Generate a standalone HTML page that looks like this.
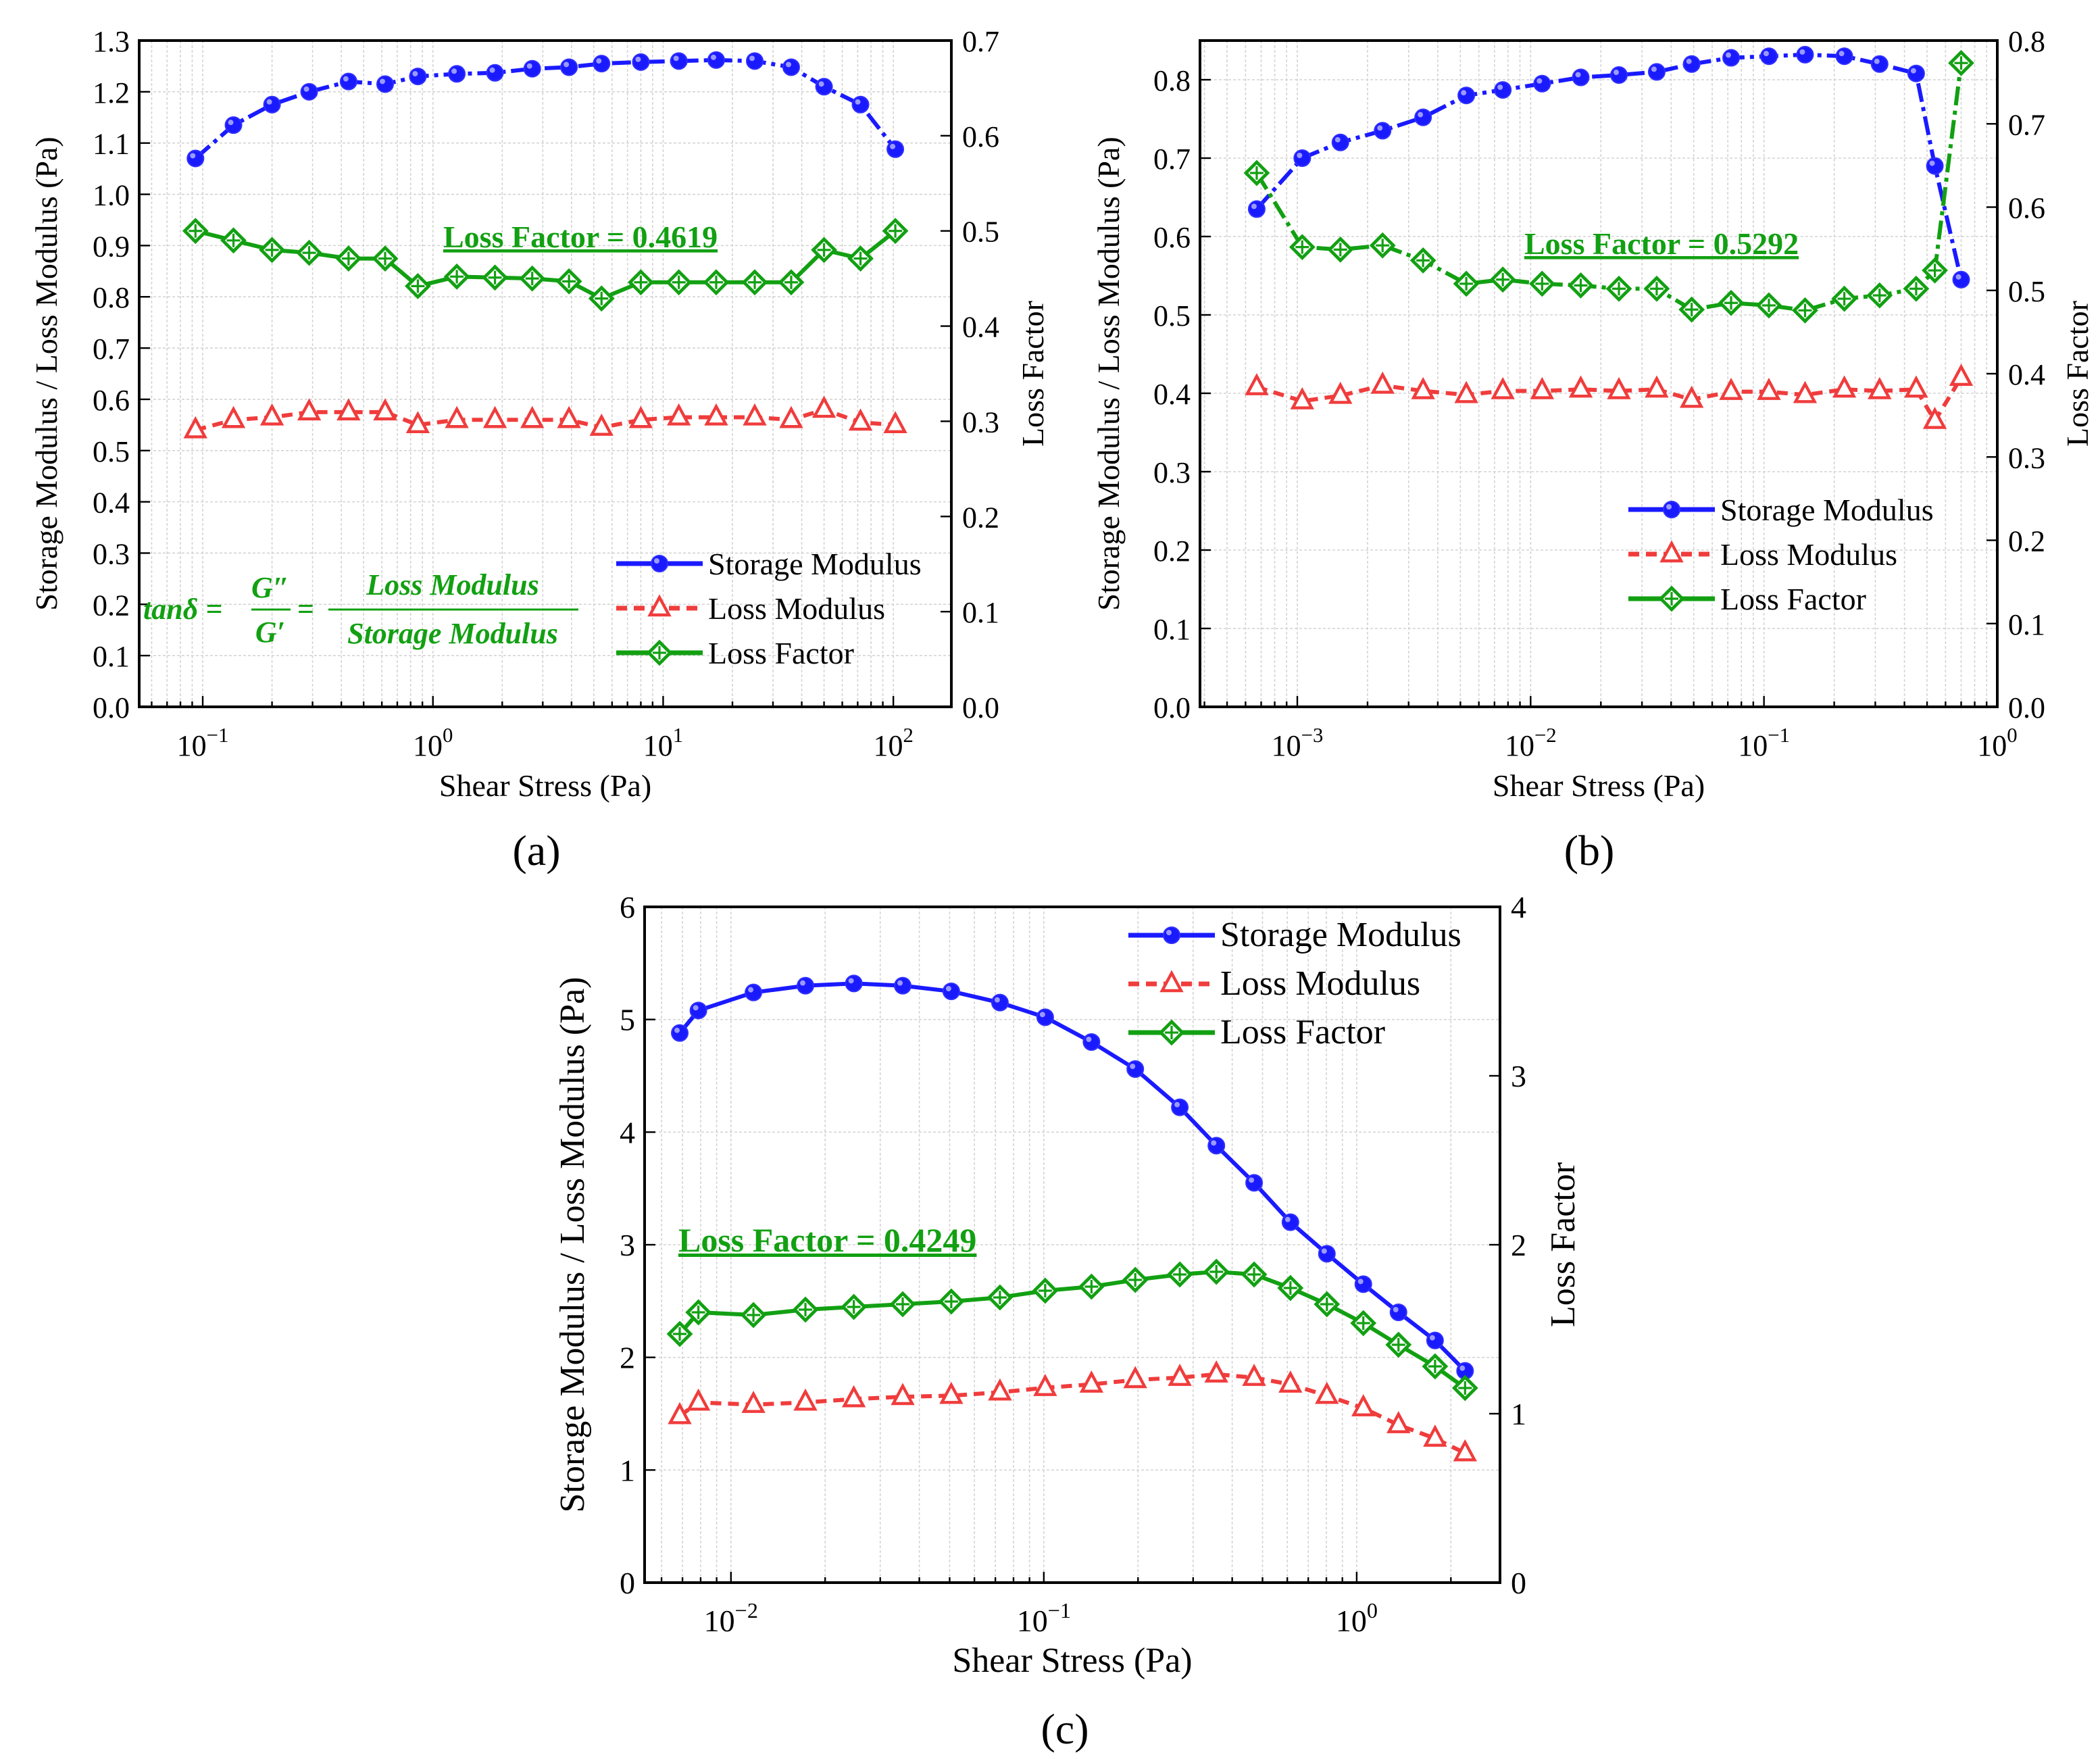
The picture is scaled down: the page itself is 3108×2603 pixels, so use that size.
<!DOCTYPE html>
<html><head><meta charset="utf-8"><style>
html,body{margin:0;padding:0;background:#fff;}
svg, svg text{font-family:"Liberation Serif","DejaVu Serif",serif;}
svg{display:block;}
</style></head><body>
<svg id="fig" width="3108" height="2603" viewBox="0 0 1554 1301.5" xmlns="http://www.w3.org/2000/svg" font-family="Liberation Serif, serif"></svg>
<script>
// ---- Panel (a) data ----
const aX = [0.093,0.136,0.2,0.29,0.43,0.62,0.86,1.27,1.86,2.7,3.9,5.4,8,11.7,17,25,36,50,72,102];
const aStorage = [1.07,1.135,1.175,1.2,1.22,1.215,1.23,1.235,1.237,1.245,1.248,1.255,1.258,1.26,1.262,1.26,1.248,1.21,1.175,1.088];
const aLoss = [0.54,0.56,0.565,0.575,0.575,0.575,0.55,0.56,0.56,0.56,0.56,0.545,0.56,0.565,0.565,0.565,0.56,0.58,0.555,0.55];
const aFactor = [0.50,0.49,0.48,0.477,0.471,0.471,0.442,0.452,0.451,0.45,0.447,0.429,0.446,0.446,0.446,0.446,0.446,0.48,0.471,0.50];
const aLeftTicks = [0,0.1,0.2,0.3,0.4,0.5,0.6,0.7,0.8,0.9,1.0,1.1,1.2,1.3];
const aRightTicks = [0,0.1,0.2,0.3,0.4,0.5,0.6,0.7];
const aXTicks = [-1,0,1,2];
// ---- Panel (b) data ----
const bX = [0.00067,0.00105,0.00153,0.00232,0.00346,0.0053,0.0076,0.0112,0.0164,0.0239,0.0347,0.049,0.0723,0.105,0.150,0.221,0.313,0.449,0.54,0.70];
const bStorage = [0.635,0.70,0.72,0.735,0.752,0.78,0.787,0.795,0.803,0.806,0.81,0.82,0.828,0.83,0.832,0.83,0.82,0.808,0.69,0.545];
const bLoss = [0.408,0.39,0.397,0.41,0.403,0.398,0.403,0.403,0.405,0.403,0.405,0.392,0.402,0.402,0.398,0.405,0.403,0.405,0.365,0.42];
const bFactor = [0.641,0.552,0.549,0.554,0.536,0.508,0.513,0.508,0.506,0.502,0.502,0.477,0.485,0.482,0.476,0.49,0.494,0.502,0.524,0.773];
const bLeftTicks = [0,0.1,0.2,0.3,0.4,0.5,0.6,0.7,0.8];
const bRightTicks = [0,0.1,0.2,0.3,0.4,0.5,0.6,0.7,0.8];
const bXTicks = [-3,-2,-1,0];
// ---- Panel (c) data ----
const cX = [0.00686,0.00787,0.0118,0.0173,0.0247,0.0354,0.0506,0.0724,0.101,0.142,0.196,0.272,0.356,0.47,0.614,0.803,1.05,1.36,1.78,2.22];
const cStorage = [4.88,5.08,5.24,5.3,5.32,5.3,5.25,5.15,5.02,4.8,4.56,4.22,3.88,3.55,3.2,2.92,2.65,2.4,2.15,1.88];
const cLoss = [1.48,1.6,1.58,1.6,1.63,1.65,1.66,1.69,1.73,1.76,1.8,1.82,1.85,1.82,1.76,1.66,1.55,1.4,1.28,1.15];
const cFactor = [1.472,1.6,1.584,1.616,1.632,1.648,1.664,1.688,1.728,1.752,1.792,1.824,1.84,1.824,1.744,1.648,1.536,1.408,1.28,1.152];
const cLeftTicks = [0,1,2,3,4,5,6];
const cRightTicks = [0,1,2,3,4];
const cXTicks = [-2,-1,0];

const NS = "http://www.w3.org/2000/svg";
const svg = document.getElementById('fig');
const FONT = '"Liberation Serif", "DejaVu Serif", serif';
function mk(tag, attrs, parent, text){
  const e = document.createElementNS(NS, tag);
  for (const k in attrs) e.setAttribute(k, attrs[k]);
  if (tag === 'text') e.setAttribute('font-family', FONT);
  if (text !== undefined) e.textContent = text;
  (parent||svg).appendChild(e);
  return e;
}
const BLUE='#1a1aff', RED='#f03c3c', GREEN='#12a012';

function panel(p){
  const g = mk('g',{});
  
  
  const X = v => p.x0 + (Math.log10(v) - p.lmin)/(p.lmax-p.lmin)*(p.x1-p.x0);
  const XL = l => p.x0 + (l - p.lmin)/(p.lmax-p.lmin)*(p.x1-p.x0);
  const YL = v => p.y1 - v/p.lTop*(p.y1-p.y0);
  const YR = v => p.y1 - v/p.rTop*(p.y1-p.y0);
  const grid = mk('g',{stroke:'#d4d4d4','stroke-width':0.8,'stroke-dasharray':'2,1.5'},g);
   
  for (let d=Math.floor(p.lmin); d<=Math.ceil(p.lmax); d++){
    for (let m=1;m<10;m++){
      const l = d+Math.log10(m);
      if (l<=p.lmin||l>=p.lmax) continue;
      mk('line',{x1:XL(l),x2:XL(l),y1:p.y0,y2:p.y1},grid);
      mk('line',{x1:XL(l),x2:XL(l),y1:p.y1,y2:p.y1-(m===1?8:4),stroke:'#000','stroke-width':1.2},g);
    }
  }
  p.lt.forEach(v=>{ mk('line',{x1:p.x0,x2:p.x1,y1:YL(v),y2:YL(v)},grid); });
  p.lt.forEach(v=>{ mk('line',{x1:p.x0,x2:p.x0+8,y1:YL(v),y2:YL(v),stroke:'#000','stroke-width':1.2},g);
    const t=mk('text',{x:p.x0-7,y:YL(v)+8,'text-anchor':'end','font-size':p.fs},g,p.lfmt(v));
      });
  p.rt.forEach(v=>{ mk('line',{x1:p.x1,x2:p.x1-8,y1:YR(v),y2:YR(v),stroke:'#000','stroke-width':1.2},g);
    const t=mk('text',{x:p.x1+8,y:YR(v)+8,'font-size':p.fs},g,p.rfmt(v));
      });
  p.xt.forEach(l=>{
    const t=mk('text',{x:XL(l),y:p.y1+36,'text-anchor':'middle','font-size':p.fs},g);
     
    const a=mk('tspan',{},t,'10'); a.setAttribute('font-family',FONT);
    const b=mk('tspan',{dy:-10,'font-size':p.fs*0.7},t,l<0?'\u2212'+(-l):String(l)); b.setAttribute('font-family',FONT);
  });
  mk('rect',{x:p.x0,y:p.y0,width:p.x1-p.x0,height:p.y1-p.y0,fill:'none',stroke:'#000','stroke-width':2},g);
  let t=mk('text',{x:(p.x0+p.x1)/2,y:p.y1+66,'text-anchor':'middle','font-size':p.ts},g,'Shear Stress (Pa)');
   
  const cy=(p.y0+p.y1)/2;
  t=mk('text',{x:p.lx,y:cy,'text-anchor':'middle','font-size':p.ts,transform:`rotate(-90 ${p.lx} ${cy})`},g,'Storage Modulus / Loss Modulus (Pa)');
   
  t=mk('text',{x:p.rx,y:cy,'text-anchor':'middle','font-size':p.ts,transform:`rotate(-90 ${p.rx} ${cy})`,'xml:space':'preserve'},g,'Loss  Factor');
   
  const series=[
    {name:'storage-modulus',vals:p.s,Y:YL,c:BLUE,dash:p.sd,m:'circle'},
    {name:'loss-modulus',vals:p.lo,Y:YL,c:RED,dash:'8,5',m:'tri'},
    {name:'loss-factor',vals:p.f,Y:YR,c:GREEN,dash:p.fd,m:'dia'}];
  series.forEach(s=>{
    const sg=mk('g',{},g);
     
    const pts=p.xs.map((x,i)=>X(x)+','+s.Y(s.vals[i])).join(' ');
    mk('polyline',{points:pts,fill:'none',stroke:s.c,'stroke-width':3,'stroke-dasharray':s.dash},sg);
    p.xs.forEach((x,i)=>marker(sg,s.m,X(x),s.Y(s.vals[i]),s.c,s.name));
  });
  const lg=mk('g',{},g);
   
  const names=['Storage Modulus','Loss Modulus','Loss Factor'];
  series.forEach((s,i)=>{
    const y=p.legY+i*p.legDy;
    const e=mk('g',{},lg);
     
    mk('line',{x1:p.legX,x2:p.legX+64,y1:y,y2:y,stroke:s.c,'stroke-width':3.5,'stroke-dasharray':i===1?'8,5':'none'},e);
    marker(e,s.m,p.legX+32,y,s.c,'legend');
    mk('text',{x:p.legX+68,y:y+8,'font-size':p.legFs},e,names[i]);
  });
  const a=mk('text',{x:p.annX,y:p.annY,'font-size':p.annFs,'font-weight':'bold',fill:GREEN,'text-decoration':'underline'},g,p.ann);
   
  const lab=mk('text',{x:p.labX,y:p.labY,'text-anchor':'middle','font-size':32},g,'('+p.id+')');
   
}
function marker(parent,m,x,y,c,name){
  let e;
  if(m==='circle'){ e=mk('circle',{cx:x,cy:y,r:6,fill:c,stroke:'#3030ff','stroke-width':1},parent); mk('circle',{cx:x-2,cy:y-2,r:2,fill:'#9a9aff'},parent); }
  else if(m==='tri'){ e=mk('polygon',{points:`${x},${y-8} ${x-7},${y+5} ${x+7},${y+5}`,fill:'#fff',stroke:c,'stroke-width':2.2},parent); }
  else { e=mk('polygon',{points:`${x},${y-8} ${x+8},${y} ${x},${y+8} ${x-8},${y}`,fill:'#fff',stroke:c,'stroke-width':2.4},parent);
    mk('path',{d:`M${x-5} ${y}H${x+5}M${x} ${y-5}V${y+5}`,stroke:c,'stroke-width':1.6},parent); }
  
  
}
const f1=v=>v.toFixed(1), f0=v=>String(v);
panel({id:'a',x0:103,x1:704,y0:30,y1:523,lmin:-1.276,lmax:2.252,lTop:1.3,rTop:0.7,
  lt:aLeftTicks,rt:aRightTicks,xt:aXTicks,lfmt:f1,rfmt:f1,fs:22,ts:23,lx:42,rx:772,
  xs:aX,s:aStorage,lo:aLoss,f:aFactor,sd:'14,4,3,4',fd:'none',
  legX:456,legY:417,legDy:33,legFs:23,ann:'Loss Factor = 0.4619',annX:328,annY:183,annFs:23,labX:397,labY:640});
panel({id:'b',x0:888,x1:1478,y0:30,y1:523,lmin:-3.417,lmax:0,lTop:0.85,rTop:0.8,
  lt:bLeftTicks,rt:bRightTicks,xt:bXTicks,lfmt:f1,rfmt:f1,fs:22,ts:23,lx:828,rx:1545,
  xs:bX,s:bStorage,lo:bLoss,f:bFactor,sd:'14,4,3,4',fd:'14,4,3,4',
  legX:1205,legY:377,legDy:33,legFs:23,ann:'Loss Factor = 0.5292',annX:1128,annY:188,annFs:23,labX:1176,labY:640});
panel({id:'c',x0:477,x1:1110,y0:671,y1:1171,lmin:-2.276,lmax:0.458,lTop:6,rTop:4,
  lt:cLeftTicks,rt:cRightTicks,xt:cXTicks,lfmt:f0,rfmt:f0,fs:23,ts:26,lx:432,rx:1165,
  xs:cX,s:cStorage,lo:cLoss,f:cFactor,sd:'none',fd:'none',
  legX:835,legY:692,legDy:36,legFs:26,ann:'Loss Factor = 0.4249',annX:502,annY:926,annFs:25,labX:788,labY:1290});
const fg=mk('g',{fill:GREEN,'font-style':'italic','font-weight':'bold','font-size':22});
 
mk('text',{x:106,y:458},fg,'tan\u03b4 =');
mk('text',{x:200,y:442,'text-anchor':'middle'},fg,'G\u2033');
mk('text',{x:200,y:475,'text-anchor':'middle'},fg,'G\u2032');
mk('line',{x1:186,x2:215,y1:451,y2:451,stroke:GREEN,'stroke-width':1.5},fg);
mk('text',{x:220,y:458,'font-style':'normal'},fg,'=');
mk('text',{x:335,y:440,'text-anchor':'middle'},fg,'Loss Modulus');
mk('text',{x:335,y:476,'text-anchor':'middle'},fg,'Storage Modulus');
mk('line',{x1:243,x2:428,y1:451,y2:451,stroke:GREEN,'stroke-width':1.5},fg);
</script>
</body></html>
